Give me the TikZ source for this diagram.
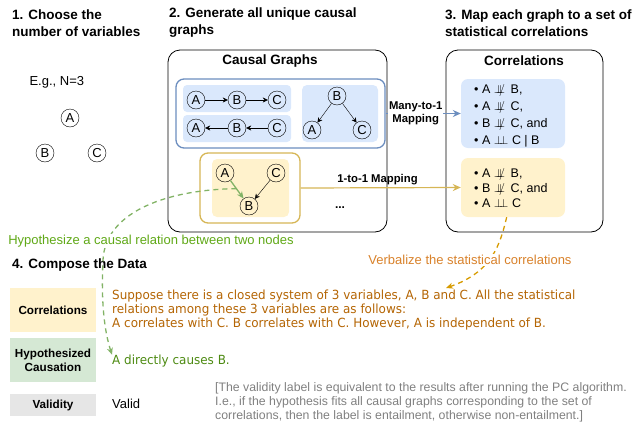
\documentclass[tikz,border=0pt]{standalone}
\usepackage{amsmath}
\usepackage{amssymb}
\usepackage{fontspec}
\setmainfont{Liberation Sans}
\newfontfamily\tahomalike[FakeStretch=0.95]{DejaVu Sans}
\usetikzlibrary{arrows.meta,positioning,fit}

\definecolor{blueline}{HTML}{6C8EBF}
\definecolor{bluefill}{HTML}{DAE8FC}
\definecolor{yelline}{HTML}{D6B656}
\definecolor{yelfill}{HTML}{FFF2CC}
\definecolor{greenfill}{HTML}{D5E8D4}
\definecolor{grayfill}{HTML}{E6E6E6}
\definecolor{gline}{HTML}{82B366}
\definecolor{hypgreen}{HTML}{60A917}
\definecolor{causegreen}{HTML}{4D8A12}
\definecolor{verbtxt}{HTML}{D9822B}
\definecolor{suptxt}{HTML}{B46504}
\definecolor{oline}{HTML}{D79B00}
\definecolor{notegray}{HTML}{808080}

\newcommand{\indep}{\mathrel{\rlap{$\perp$}\mkern3mu\perp}}
\newcommand{\nindep}{\mathrel{\rlap{$\perp$}\mkern3mu\rlap{$\perp$}\mkern5mu\rlap{$/$}\mkern12mu}}

\begin{document}
\begin{tikzpicture}[x=1pt,y=-1pt,
    vnode/.style={circle,draw,inner sep=0pt,minimum size=18pt,font=\fontsize{13}{13}\selectfont},
    cedge/.style={-{Stealth[length=5pt,width=5pt]},thin},
    ttl/.style={anchor=west,align=left,inner sep=0pt,font=\bfseries\fontsize{13.5}{17}\selectfont},
    panel/.style={draw,rounded corners=12pt,line width=0.8pt,inner sep=0pt},
    maplbl/.style={align=center,inner sep=1pt,font=\bfseries\fontsize{11.3}{12.5}\selectfont},
    lbox/.style={minimum width=86pt,inner sep=0pt,align=center,font=\bfseries\fontsize{11.7}{14}\selectfont}]
    \useasboundingbox (0,0) rectangle (632,426);

    % step titles
    \node[ttl] (t1) at (12,23) {1. Choose the\\number of variables};
    \node[ttl] (t2) at (169,23) {2. Generate all unique causal\\graphs};
    \node[ttl] (t3) at (445,23) {3. Map each graph to a set of\\statistical correlations};
    \node[ttl] (t4) at (12,265) {4. Compose the Data};

    % step 1
    \node[anchor=west,font=\fontsize{13}{13}\selectfont] (eg) at (26,82) {E.g., N=3};
    \node[vnode] (sA) at (70,118) {A};
    \node[vnode] (sB) at (45,153) {B};
    \node[vnode] (sC) at (97,153) {C};

    % step 2
    \node[panel,fit={(168,50) (387,232)}] (gpanel) {};
    \node[font=\bfseries\fontsize{13.5}{14}\selectfont] (gtitle) at (270,61) {Causal Graphs};
    \node[fit={(176,79) (385,148)},draw=blueline,line width=1.3pt,rounded corners=8pt,inner sep=0pt] (gblue) {};
    \fill[bluefill,rounded corners=4pt] (183,85) rectangle (291,112);
    \fill[bluefill,rounded corners=4pt] (183,115) rectangle (291,142);
    \fill[bluefill,rounded corners=5pt] (302,85) rectangle (378,142);
    \foreach \v/\x in {A/196,B/237,C/277} {
        \node[vnode] (r1\v) at (\x,100) {\v};
        \node[vnode] (r2\v) at (\x,128) {\v};
    }
    \draw[cedge] (r1A) -- (r1B);
    \draw[cedge] (r1B) -- (r1C);
    \draw[cedge] (r2C) -- (r2B);
    \draw[cedge] (r2B) -- (r2A);
    \node[vnode] (fB) at (337,96) {B};
    \node[vnode] (fA) at (312,130) {A};
    \node[vnode] (fC) at (362,130) {C};
    \draw[cedge] (fB) -- (fA);
    \draw[cedge] (fB) -- (fC);

    \node[fit={(200,153) (300,223)},draw=yelline,line width=1.3pt,rounded corners=8pt,inner sep=0pt] (gyel) {};
    \fill[yelfill,rounded corners=5pt] (212,159) rectangle (289,217);
    \node[vnode] (yA) at (225,173) {A};
    \node[vnode] (yC) at (276,173) {C};
    \node[vnode] (yB) at (249,206) {B};
    \draw[cedge] (yC) -- (yB);
    \draw[-{Stealth[length=7pt,width=6pt]},gline,line width=1.3pt] (yA) -- (yB);
    \node[font=\bfseries\fontsize{12}{12}\selectfont] (gdots) at (340,208) {...};

    % step 3
    \node[panel,fit={(446,50) (603,232)}] (cpanel) {};
    \node[font=\bfseries\fontsize{13.5}{14}\selectfont] (ctitle) at (524,61) {Correlations};
    \node[fit={(461,79) (565,148)},fill=bluefill,rounded corners=7pt,inner sep=0pt] (cblue) {};
    \node[fit={(461,158) (565,217)},fill=yelfill,rounded corners=7pt,inner sep=0pt] (cyel) {};
    \node[anchor=west,align=left,inner sep=0pt,font=\fontsize{12.5}{17}\selectfont] (cbluetxt) at (474,116)
        {\textbullet\ A $\nindep$ B,\\ \textbullet\ A $\nindep$ C,\\ \textbullet\ B $\nindep$ C, and\\ \textbullet\ A $\indep$ C | B};
    \node[anchor=west,align=left,inner sep=0pt,font=\fontsize{12.5}{15}\selectfont] (cyeltxt) at (474,188.5)
        {\textbullet\ A $\nindep$ B,\\ \textbullet\ B $\nindep$ C, and\\ \textbullet\ A $\indep$ C};

    \draw[blueline,line width=1.2pt,-{Stealth[length=8pt,width=7pt]}] (gblue.east) -- (cblue.west)
        node[pos=0.4,fill=white,maplbl,text=black] {Many-to-1\\Mapping};
    \draw[yelline,line width=1.2pt,-{Stealth[length=8pt,width=7pt]}] (gyel.east) -- (cyel.west)
        node[pos=0.48,above=1pt,maplbl,text=black] {1-to-1 Mapping};

    % step 4
    \node[lbox,fill=yelfill,minimum height=44pt] (lcorr) at (53,310) {Correlations};
    \node[lbox,fill=greenfill,minimum height=44pt] (lhyp) at (53,360) {Hypothesized\\Causation};
    \node[lbox,fill=grayfill,minimum height=22pt] (lval) at (53,405) {Validity};

    \node[anchor=west,align=left,inner sep=0pt,text=suptxt,font=\tahomalike\fontsize{12.6}{14}\selectfont] (suptext) at (112,310)
        {Suppose there is a closed system of 3 variables, A, B and C. All the statistical\\
         relations among these 3 variables are as follows:\\
         A correlates with C. B correlates with C. However, A is independent of B.};
    \node[anchor=west,inner sep=0pt,text=causegreen,font=\tahomalike\fontsize{12.6}{14}\selectfont] (causetext) at (112,361) {A directly causes B.};
    \node[anchor=west,inner sep=0pt,font=\fontsize{13}{14}\selectfont] (valtext) at (112,404) {Valid};
    \node[anchor=west,align=left,inner sep=0pt,text=notegray,font=\fontsize{12.3}{14}\selectfont] (note) at (215,402)
        {[The validity label is equivalent to the results after running the PC algorithm.\\
         I.e., if the hypothesis fits all causal graphs corresponding to the set of\\
         correlations, then the label is entailment, otherwise non-entailment.]};

    % dashed hints
    \path (yA) -- coordinate[pos=0.45] (hypstart) (yB);
    \draw[gline,line width=1.3pt,dash pattern=on 5pt off 4pt,-{Stealth[length=7pt,width=6pt]}]
        (hypstart) .. controls (160,190) and (105,215) .. (103,260)
        .. controls (101,300) and (104,330) .. (causetext.north west);
    \node[fill=white,inner sep=1pt,text=hypgreen,font=\fontsize{13}{14}\selectfont] (hyplbl) at (151,241)
        {Hypothesize a causal relation between two nodes};

    \coordinate (verbend) at (446,288);
    \draw[oline,line width=1.3pt,dash pattern=on 5pt off 4pt,-{Stealth[length=7pt,width=6pt]}]
        (cyel.258) .. controls (500,245) and (492,272) .. (verbend);
    \node[fill=white,inner sep=1pt,text=verbtxt,font=\fontsize{13}{14}\selectfont] (verblbl) at (470,260)
        {Verbalize the statistical correlations};
\end{tikzpicture}
\end{document}
